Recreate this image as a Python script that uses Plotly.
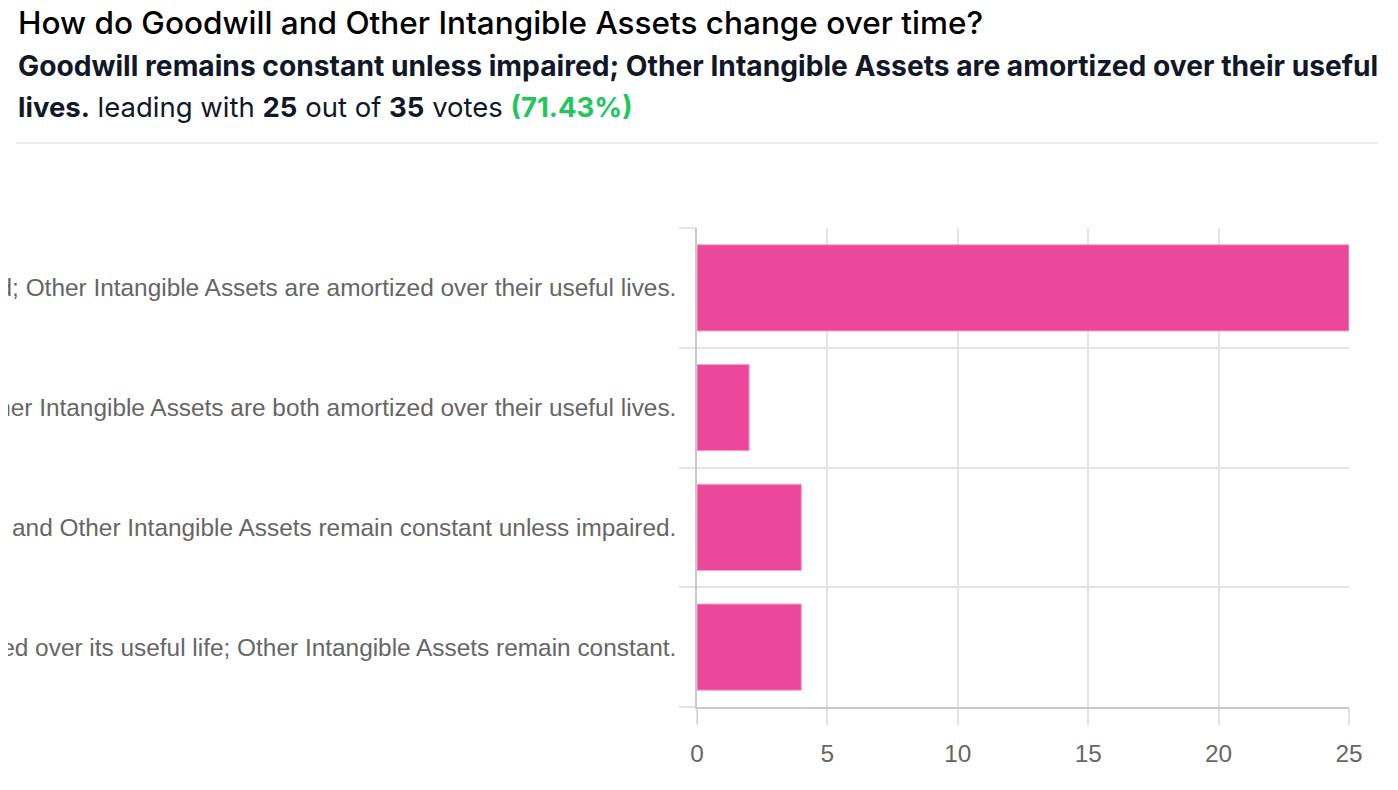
import plotly.graph_objects as go

categories = [
    "Goodwill remains constant unless impaired; Other Intangible Assets are amortized over their useful lives.",
    "Goodwill and Other Intangible Assets are both amortized over their useful lives.",
    "Goodwill and Other Intangible Assets remain constant unless impaired.",
    "Goodwill is amortized over its useful life; Other Intangible Assets remain constant.",
]
votes = [25, 2, 4, 4]
x_ticks = [0, 5, 10, 15, 20, 25]

title_text = "How do Goodwill and Other Intangible Assets change over time?"
leader_text = "Goodwill remains constant unless impaired; Other Intangible Assets are amortized over their useful"
leader_text2 = "lives."
leader_votes = 25
total_votes = 35
leader_pct = "71.43%"

OFF = 8  # page body margin
W, H = 1398 - 2 * OFF, 790 - 2 * OFF
L, R, T, B = 697 - OFF, 1349 - OFF, 228 - OFF, 707 - OFF
pw, ph = R - L, B - T

def px(X):
    return (X - OFF - L) / pw

def py(Y):
    return (B - (Y - OFF)) / ph

positions = list(range(len(categories)))
boundaries = [p - 0.5 for p in positions] + [positions[-1] + 0.5]

fig = go.Figure(
    go.Bar(
        x=votes,
        y=positions,
        orientation="h",
        width=0.72,
        marker=dict(color="#EC4899", line=dict(color="#F3A6CB", width=1)),
        hoverinfo="x",
    )
)

grid = "#E3E3E3"
axis_dark = "#C9C9C9"
tick_font = dict(family="Liberation Sans, Arial, Helvetica, sans-serif", size=24.4, color="#666666")

fig.update_layout(
    template="none",
    width=W,
    height=H,
    margin=dict(l=L, r=W - R, t=T, b=H - B, pad=0),
    paper_bgcolor="white",
    plot_bgcolor="white",
    showlegend=False,
    bargap=0.28,
    xaxis=dict(
        range=[0, 25],
        tickvals=x_ticks,
        ticktext=[str(v) for v in x_ticks],
        ticks="outside",
        ticklen=16,
        tickwidth=1.5,
        tickcolor=grid,
        showgrid=True,
        gridcolor=grid,
        gridwidth=1.5,
        zeroline=False,
        showline=True,
        linecolor=axis_dark,
        linewidth=1.5,
        tickfont=tick_font,
        ticklabelstandoff=8,
        automargin=False,
        fixedrange=True,
    ),
    yaxis=dict(
        range=[boundaries[-1], boundaries[0]],
        tickvals=positions,
        ticktext=categories,
        ticks="",
        showgrid=False,
        zeroline=False,
        showline=True,
        linecolor=axis_dark,
        linewidth=1.5,
        tickfont=tick_font,
        ticklabelstandoff=14,
        automargin=False,
        fixedrange=True,
        minor=dict(
            tickvals=boundaries,
            ticks="outside",
            ticklen=16,
            tickwidth=1.5,
            tickcolor=grid,
            showgrid=True,
            gridcolor=grid,
            gridwidth=1.5,
        ),
    ),
)

# darker extension of the value axis origin below the plot
fig.add_shape(
    type="line", xref="x", yref="paper",
    x0=0, x1=0, y0=0, y1=-16 / ph,
    line=dict(color=axis_dark, width=1.5),
)

head_font = "Inter, Noto Sans, Liberation Sans, sans-serif"
fig.add_annotation(
    text=title_text,
    xref="paper", yref="paper", x=px(16), y=py(22),
    xanchor="left", yanchor="middle", showarrow=False,
    font=dict(family=head_font, size=31.5, color="#000000", weight=500),
)
fig.add_annotation(
    text=f"<b>{leader_text}</b>",
    xref="paper", yref="paper", x=px(16), y=py(66),
    xanchor="left", yanchor="middle", showarrow=False,
    font=dict(family=head_font, size=28.2, color="#111827"),
)
fig.add_annotation(
    text=(f"<b>{leader_text2}</b> leading with <b>{leader_votes}</b> out of "
          f"<b>{total_votes}</b> votes <span style='color:#22C55E'><b>({leader_pct})</b></span>"),
    xref="paper", yref="paper", x=px(16), y=py(107),
    xanchor="left", yanchor="middle", showarrow=False,
    font=dict(family=head_font, size=27.5, color="#111827"),
)
fig.add_shape(
    type="line", xref="paper", yref="paper",
    x0=px(16), x1=px(1378), y0=py(143), y1=py(143),
    line=dict(color="#E5E7EB", width=1.5),
)

fig.write_html("out.html", config={"displayModeBar": False})
